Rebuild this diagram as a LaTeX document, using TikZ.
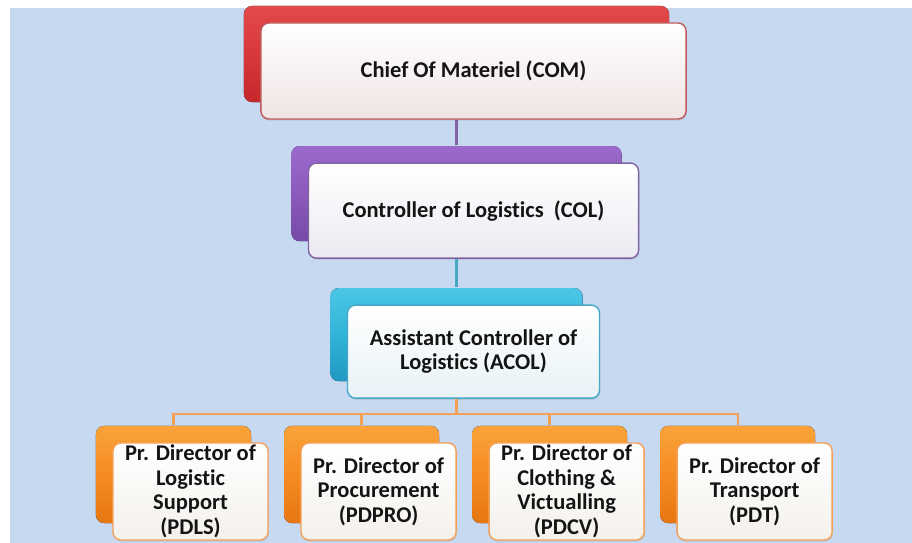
\documentclass[tikz,border=0pt]{standalone}
\usepackage{fontspec}
\setmainfont{Carlito}[Ligatures=NoCommon]
\usetikzlibrary{shadows,positioning}

\definecolor{bgblue}{RGB}{198,217,240}
\definecolor{redtop}{RGB}{226,74,76}
\definecolor{redmid}{RGB}{216,56,58}
\definecolor{redbot}{RGB}{196,40,44}
\definecolor{redline}{RGB}{192,90,90}
\definecolor{redfill}{RGB}{240,228,228}
\definecolor{purtop}{RGB}{156,106,204}
\definecolor{purmid}{RGB}{140,90,188}
\definecolor{purbot}{RGB}{118,74,168}
\definecolor{purline}{RGB}{128,100,162}
\definecolor{purfill}{RGB}{236,234,242}
\definecolor{cyantop}{RGB}{76,198,230}
\definecolor{cyanmid}{RGB}{50,180,216}
\definecolor{cyanbot}{RGB}{32,152,194}
\definecolor{cyanline}{RGB}{70,168,196}
\definecolor{cyanfill}{RGB}{232,242,246}
\definecolor{orgtop}{RGB}{250,162,58}
\definecolor{orgmid}{RGB}{245,140,34}
\definecolor{orgbot}{RGB}{230,118,18}
\definecolor{orgline}{RGB}{244,160,86}
\definecolor{orgfill}{RGB}{244,241,236}

% offset of the coloured sheet behind each box
\newcommand\backoff{0.425cm}

\begin{document}
\begin{tikzpicture}[
  x=0.025cm, y=-0.025cm,
  box/.style={rectangle, rounded corners=0.2cm, line width=1pt, align=center,
    inner sep=0pt, text=black!92,
    font=\bfseries\fontsize{16}{17.5}\selectfont},
  sheet/.style n args={3}{copy shadow={draw=none, top color=#1, bottom color=#3,
    middle color=#2, shadow xshift=-\backoff, shadow yshift=\backoff},
    drop shadow={opacity=0.2, shadow xshift=0.6pt, shadow yshift=-1.2pt}},
  combox/.style={box, sheet={redtop}{redmid}{redbot}, draw=redline,
    top color=white, bottom color=redfill, minimum width=10.625cm, minimum height=2.4cm},
  colbox/.style={box, sheet={purtop}{purmid}{purbot}, draw=purline,
    top color=white, bottom color=purfill, minimum width=8.25cm, minimum height=2.375cm},
  acolbox/.style={box, sheet={cyantop}{cyanmid}{cyanbot}, draw=cyanline,
    top color=white, bottom color=cyanfill, minimum width=6.3cm, minimum height=2.325cm},
  pdbox/.style={box, sheet={orgtop}{orgmid}{orgbot}, draw=orgline,
    top color=white, bottom color=orgfill, minimum width=3.875cm, minimum height=2.425cm},
  link/.style={line width=1.6pt},
  node distance=4.7cm
]
% page and background
\fill[white] (0,0) rectangle (912,543);
\fill[bgblue] (10,8) rectangle (912,543);
\useasboundingbox (0,0) rectangle (912,543);

% Top of the chain
\node[combox] (com) at (473.5,71) {Chief Of Materiel (COM)};
\node[colbox, below of=com, node distance=3.49cm] (col) {Controller of Logistics\ \ (COL)};
\node[acolbox, below of=col, node distance=3.525cm] (acol) {Assistant Controller of\\Logistics (ACOL)};

% Principal directors
\node[pdbox] (pdls) at (190.5,491.5) {Pr. Director of\\Logistic\\Support\\(PDLS)};
\node[pdbox, right of=pdls] (pdpro) {Pr. Director of\\Procurement\\(PDPRO)};
\node[pdbox, right of=pdpro] (pdcv) {Pr. Director of\\Clothing \&\\Victualling\\(PDCV)};
\node[pdbox, right of=pdcv] (pdt) {Pr. Director of\\Transport\\(PDT)};

% Connectors
\draw[link, purline] ([xshift=-\backoff]com.south) -- ([shift={(-\backoff,\backoff)}]col.north);
\draw[link, cyanline] ([xshift=-\backoff]col.south) -- ([shift={(-\backoff,\backoff)}]acol.north);
\coordinate (bus) at ([shift={(-\backoff,-0.375cm)}]acol.south);
\draw[link, orgline] ([xshift=-\backoff]acol.south) -- (bus);
\foreach \pd in {pdls,pdpro,pdcv,pdt}
  \draw[link, orgline] (bus) -| ([shift={(-\backoff,\backoff)}]\pd.north);

\end{tikzpicture}
\end{document}
